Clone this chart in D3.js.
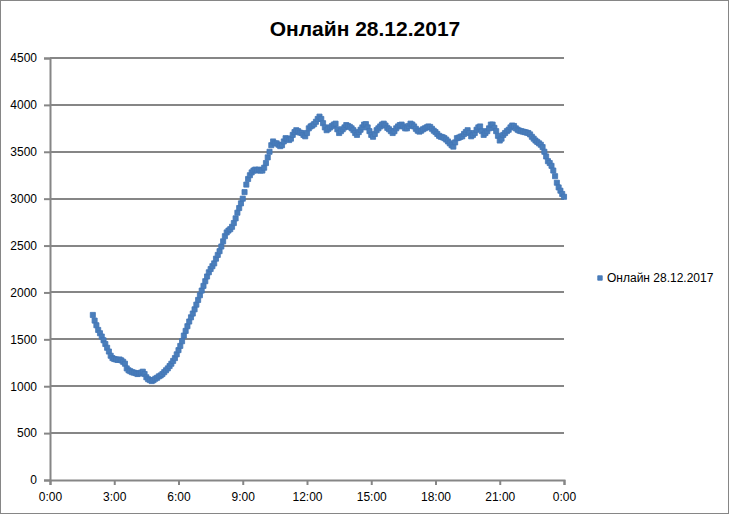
<!DOCTYPE html>
<html>
<head>
<meta charset="utf-8">
<script src="https://cdn.jsdelivr.net/npm/d3@7"></script>
<style>
  body { margin: 0; background: #fff; }
  text { font-family: "Liberation Sans", Arial, sans-serif; fill: #000; }
</style>
</head>
<body>
<svg id="chart" width="729" height="514"></svg>
<script>
// series name / title
let title = "Онлайн 28.12.2017";
// samples every 5 minutes starting 2:00
let startMinute = 120;
let stepMinutes = 5;
// one row per hour, 12 readings each (value of online users)
let online = [
  1760,1700,1650,1600,1565,1530,1490,1450,1410,1370,1325,1300, // 2
  1290,1285,1280,1285,1275,1260,1240,1190,1170,1160,1150,1145, // 3
  1140,1130,1135,1145,1155,1130,1095,1075,1065,1055,1065,1080, // 4
  1090,1105,1115,1130,1150,1170,1190,1215,1240,1270,1300,1340, // 5
  1385,1430,1480,1540,1590,1640,1690,1735,1775,1820,1870,1920, // 6
  1970,2020,2070,2120,2170,2215,2250,2280,2310,2360,2400,2440, // 7
  2490,2545,2600,2640,2660,2675,2700,2740,2790,2850,2900,2950, // 8
  3000,3070,3150,3210,3250,3280,3300,3310,3300,3310,3300,3300, // 9
  3330,3380,3440,3500,3570,3610,3590,3590,3575,3560,3570,3610, // 10
  3645,3640,3625,3640,3680,3710,3730,3720,3705,3700,3680,3665, // 11
  3700,3750,3770,3780,3795,3820,3850,3875,3850,3805,3760,3730, // 12
  3745,3760,3775,3790,3800,3740,3700,3720,3740,3760,3785,3775, // 13
  3765,3750,3730,3700,3680,3710,3735,3760,3790,3795,3760,3720, // 14
  3680,3660,3690,3730,3750,3770,3790,3800,3780,3755,3740,3720, // 15
  3700,3720,3750,3770,3785,3790,3770,3750,3750,3775,3800,3790, // 16
  3770,3745,3725,3715,3725,3740,3750,3760,3770,3765,3745,3725, // 17
  3710,3690,3670,3660,3655,3645,3630,3610,3590,3570,3555,3600, // 18
  3645,3650,3660,3665,3690,3710,3730,3700,3665,3680,3700,3735, // 19
  3760,3770,3720,3680,3700,3720,3750,3790,3790,3755,3720,3670, // 20
  3620,3640,3680,3700,3720,3735,3760,3780,3775,3750,3735,3725, // 21
  3720,3715,3710,3705,3700,3685,3660,3640,3620,3605,3590,3575, // 22
  3550,3500,3450,3400,3380,3350,3300,3240,3170,3120,3085,3050, // 23
  3020                                                          // 0:00
];
let yTicks = [0,500,1000,1500,2000,2500,3000,3500,4000,4500];
let xTickHours = [0,3,6,9,12,15,18,21,24];
let xTickLabels = ["0:00","3:00","6:00","9:00","12:00","15:00","18:00","21:00","0:00"];

let svg = d3.select("#chart");
let margin = {left: 50, top: 58, right: 165, bottom: 34};
let W = 729, H = 514;
let plotW = W - margin.left - margin.right;
let plotH = H - margin.top - margin.bottom;

// outer border
svg.append("rect")
  .attr("x", 0.5).attr("y", 0.5)
  .attr("width", W - 1).attr("height", H - 1)
  .attr("fill", "#fff").attr("stroke", "#868686");

svg.append("text")
  .attr("x", 365).attr("y", 36)
  .attr("text-anchor", "middle")
  .style("font-size", "21px").style("font-weight", "bold")
  .text(title);

let x = d3.scaleLinear().domain([0, 24 * 60]).range([0, plotW]);
let y = d3.scaleLinear().domain([0, 4500]).range([plotH, 0]);

let plot = svg.append("g").attr("transform", "translate(" + margin.left + "," + margin.top + ")");

// horizontal gridlines
plot.selectAll("line.grid")
  .data(yTicks.filter(d => d > 0))
  .enter().append("line")
  .attr("class", "grid")
  .attr("x1", 0).attr("x2", plotW)
  .attr("y1", d => Math.round(y(d))).attr("y2", d => Math.round(y(d)))
  .attr("stroke", "#868686").attr("stroke-width", 2);

let yAxis = d3.axisLeft(y).tickValues(yTicks).tickSize(6).tickPadding(7).tickFormat(d3.format("d"));
let yG = plot.append("g").call(yAxis);

let xAxis = d3.axisBottom(x).tickValues(xTickHours.map(h => h * 60)).tickSize(5).tickPadding(7)
  .tickFormat((d, i) => xTickLabels[i]);
let xG = plot.append("g").attr("transform", "translate(0," + plotH + ")").call(xAxis);

[yG, xG].forEach(g => {
  g.select(".domain").attr("stroke", "#868686").attr("stroke-width", 2);
  g.selectAll(".tick line").attr("stroke", "#868686").attr("stroke-width", 2);
  g.selectAll("text").style("font-size", "12px").style("font-family", "Liberation Sans, Arial, sans-serif").attr("fill", "#000");
});

// markers
let marker = d3.symbol().type(d3.symbolSquare).size(26);
plot.selectAll("path.pt")
  .data(online)
  .enter().append("path")
  .attr("class", "pt")
  .attr("d", marker)
  .attr("transform", (d, i) => "translate(" + x(startMinute + i * stepMinutes) + "," + y(d) + ")")
  .attr("fill", "#4a7ebb")
  .attr("stroke", "#4276b6").attr("stroke-width", 0.8);

// legend
let lg = svg.append("g").attr("transform", "translate(600,278)");
lg.append("path").attr("d", d3.symbol().type(d3.symbolSquare).size(20)).attr("fill", "#4a7ebb").attr("stroke", "#4276b6").attr("stroke-width", 0.8);
lg.append("text").attr("x", 7).attr("y", 4).style("font-size", "12px").text(title);
</script>
</body>
</html>
